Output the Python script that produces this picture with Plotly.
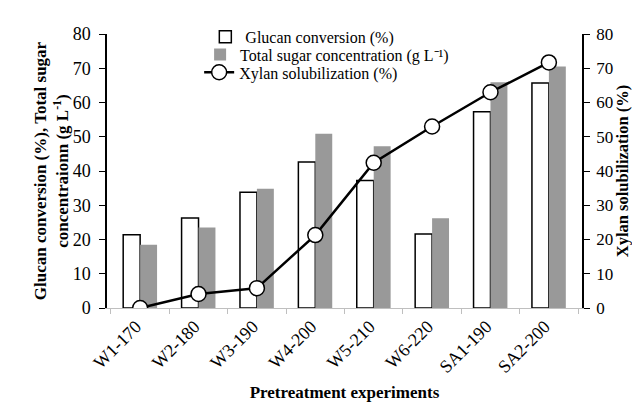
import plotly.graph_objects as go

categories = ["W1-170", "W2-180", "W3-190", "W4-200", "W5-210", "W6-220", "SA1-190", "SA2-200"]
glucan_conversion = [21.4, 26.3, 33.8, 42.6, 37.2, 21.6, 57.3, 65.7]
total_sugar = [18.5, 23.5, 34.8, 50.9, 47.2, 26.2, 65.9, 70.5]
xylan_solubilization = [0.0, 4.1, 5.8, 21.3, 42.4, 53.0, 63.0, 71.7]

FONT = "Liberation Serif"

fig = go.Figure()
fig.add_trace(go.Bar(
    x=categories, y=glucan_conversion, name="Glucan conversion (%)",
    marker=dict(color="white", line=dict(color="black", width=1.5)),
    legend="legend",
))
fig.add_trace(go.Bar(
    x=categories, y=total_sugar, name="Total sugar concentration (g L\u207b\u00b9)",
    marker=dict(color="#999999", line=dict(width=0)),
    legend="legend2",
))
fig.add_trace(go.Scatter(
    x=categories, y=xylan_solubilization, name="Xylan solubilization (%)",
    yaxis="y2", mode="lines+markers",
    line=dict(color="black", width=2.5),
    marker=dict(symbol="circle", size=15, color="white", line=dict(color="black", width=1.5)),
    legend="legend3",
))

leg_common = dict(xanchor="left", yanchor="middle", bgcolor="rgba(0,0,0,0)",
                  font=dict(family=FONT, size=16), itemwidth=30)

fig.update_layout(
    width=640, height=407,
    margin=dict(l=99, r=66, t=22, b=107),
    paper_bgcolor="white", plot_bgcolor="white",
    font=dict(family=FONT, size=16, color="black"),
    barmode="group", bargap=0.42, bargroupgap=0,
    showlegend=True,
    legend=dict(x=0.207, y=0.99, **leg_common),
    legend2=dict(x=0.196, y=0.925, **leg_common),
    legend3=dict(x=0.194, y=0.86, **leg_common),
    xaxis=dict(
        title=dict(text="<b>Pretreatment experiments</b>", font=dict(size=17), standoff=10),
        tickangle=-45, showline=True, linecolor="#bfbfbf", linewidth=1,
        ticks="outside", tickcolor="#bfbfbf", ticklen=5, tickson="boundaries",
        showgrid=False, tickfont=dict(size=18), ticklabelshift=-4,
    ),
    yaxis=dict(
        title=dict(text="<b>Glucan conversion (%), Total sugar<br>concentraionn (g L<sup>-1</sup>)</b>",
                   font=dict(size=17), standoff=0),
        range=[0, 80], dtick=10, showline=True, linecolor="black", linewidth=1.5,
        ticks="outside", ticklen=6, tickcolor="black", showgrid=False, zeroline=False,
        tickfont=dict(size=18), ticklabelstandoff=5,
    ),
    yaxis2=dict(
        title=dict(text="<b>Xylan solubilization (%)</b>", font=dict(size=16.5), standoff=0),
        range=[0, 80], dtick=10, overlaying="y", side="right",
        showline=True, linecolor="black", linewidth=1.5,
        ticks="outside", ticklen=6, tickcolor="black", showgrid=False, zeroline=False,
        tickfont=dict(size=17), ticklabelstandoff=3,
    ),
)

fig.write_html("out.html")
